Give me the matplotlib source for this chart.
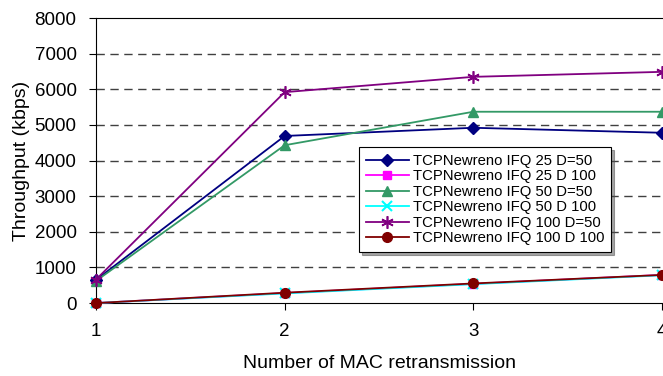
import numpy as np
import matplotlib.pyplot as plt

plt.rcParams['font.family'] = ['Liberation Sans', 'DejaVu Sans']

retrans = [1, 2, 3, 4]

ifq25_d50 = [650, 4690, 4920, 4780]
ifq25_d100 = [0, 280, 540, 790]
ifq50_d50 = [620, 4430, 5370, 5370]
ifq50_d100 = [0, 270, 530, 780]
ifq100_d50 = [660, 5920, 6350, 6490]
ifq100_d100 = [0, 290, 550, 790]

labels = ['TCPNewreno IFQ 25 D=50', 'TCPNewreno IFQ 25 D 100',
          'TCPNewreno IFQ 50 D=50', 'TCPNewreno IFQ 50 D 100',
          'TCPNewreno IFQ 100 D=50', 'TCPNewreno IFQ 100 D 100']

styles = [
    dict(color='#000080', marker='D', ms=6),
    dict(color='#FF00FF', marker='s', ms=6),
    dict(color='#339966', marker='^', ms=7),
    dict(color='#00FFFF', marker='x', ms=7, mew=1.5),
    dict(color='#800080', marker=(6, 2, 0), ms=9, mew=1.2),
    dict(color='#800000', marker='o', ms=7),
]

series = [ifq25_d50, ifq25_d100, ifq50_d50, ifq50_d100, ifq100_d50, ifq100_d100]

fig = plt.figure(figsize=(6.63, 3.76), dpi=100)
ax = fig.add_axes([0.1448, 0.194, 0.8537, 0.758])

for vals, lab, st in zip(series, labels, styles):
    ax.plot(retrans, vals, label=lab, lw=1.3, clip_on=False, zorder=5, **st)

ax.set_xlim(1, 4)
ax.set_ylim(0, 8000)
ax.set_xticks(retrans)
ax.set_yticks(np.arange(0, 8001, 1000))
for yv in range(1000, 8000, 1000):
    ax.axhline(yv, color='#404040', lw=1.0, ls=(0, (6, 4)), zorder=1)

ax.spines['right'].set_visible(False)
ax.tick_params(axis='both', direction='out', labelsize=13.5, length=5, color='black')
ax.tick_params(axis='x', pad=9)
ax.tick_params(axis='y', pad=9)
ax.set_xlabel('Number of MAC retransmission', fontsize=14, labelpad=11)
ax.set_ylabel('Throughput (kbps)', fontsize=14, labelpad=3)

leg = ax.legend(loc='upper left', bbox_to_anchor=(0.4647, 0.547), fontsize=10.7,
                frameon=True, fancybox=False, shadow=True, handlelength=2.9,
                labelspacing=0.1, borderpad=0.45, handletextpad=0.3,
                borderaxespad=0)
leg.get_frame().set_edgecolor('black')
leg.get_frame().set_linewidth(0.8)

plt.savefig('out.png', dpi=100)
